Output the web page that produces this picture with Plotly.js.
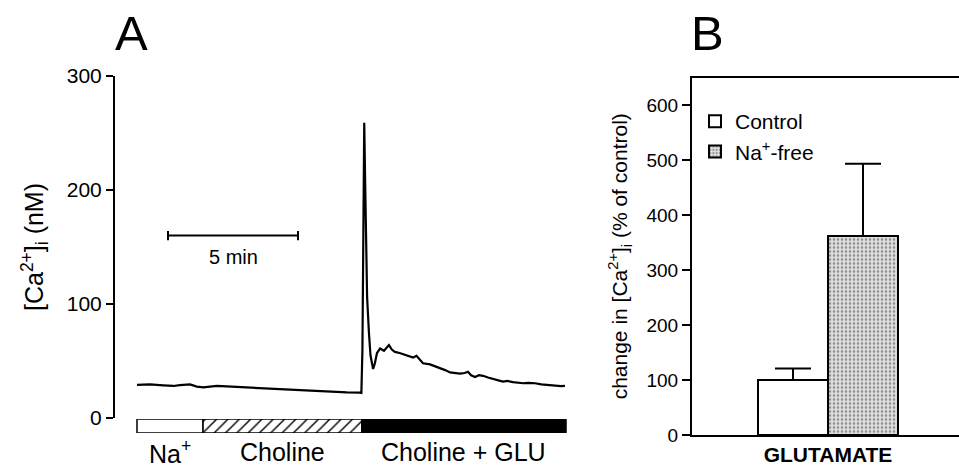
<!DOCTYPE html>
<html>
<head>
<meta charset="utf-8">
<script src="https://cdn.plot.ly/plotly-3.0.1.min.js"></script>
<style>
html,body{margin:0;padding:0;background:#fff;overflow:hidden;}
#chart{width:959px;height:467px;}
</style>
</head>
<body>
<div id="chart"></div>
<script>
// ---- Panel A: [Ca2+]i trace (time in minutes, value in nM) ----
const traceTime = [0,0.5,1.01,1.4,1.65,2.04,2.3,2.55,3.07,3.58,4.22,4.86,5.5,6.14,6.78,7.42,8.07,8.58,8.63,
  8.67,8.69,8.72,8.74,8.77,8.81,8.85,8.92,8.98,9.08,9.15,9.23,9.35,9.5,9.62,9.69,9.8,9.92,10.1,10.23,10.45,
  10.62,10.75,10.85,11.0,11.27,11.45,11.65,11.85,12.04,12.25,12.42,12.6,12.73,12.85,13.0,13.15,13.31,13.5,
  13.69,13.9,14.08,14.25,14.46,14.65,14.85,15.05,15.31,15.55,15.77,15.95,16.12,16.3,16.46];
const traceCa = [29,29.5,28.7,28.1,28.9,29.5,27.5,26.9,28.1,27.5,26.6,26.0,25.4,24.6,23.7,23.1,22.5,22.2,22,
  60,140,230,259,215,160,106,75,55,43,48,57,61,59,62,64,60,58,57,56,54,
  53,54.5,52,48,47,45.5,44,42,40,39.5,39,39.5,40.5,37.5,36,37.5,37,35.5,
  34,33,32,32.5,31.5,31,30.5,30.8,30.5,29.5,29,28.3,28.5,28,28.2];

// Perfusion protocol (minutes)
const stimLabels = ['Na<sup>+</sup>','Choline','Choline + GLU'];
const stimStart = [0, 2.54, 8.65];
const stimEnd = [2.54, 8.65, 16.5];
const stimFill = ['#ffffff','#ffffff','#000000'];
const stimPattern = ['', '/', ''];
const scaleBarMinutes = 5;
const yTicksA = [0,100,200,300];

// ---- Panel B: bar chart ----
const groupLabel = 'GLUTAMATE';
const seriesNames = ['Control','Na<sup>+</sup>-free'];
const seriesValues = [100, 362];
const seriesErrors = [21, 131];
const yTicksB = [0,100,200,300,400,500,600];

const FONT = 'Liberation Sans, Arial, Helvetica, sans-serif';
const W = 959, H = 467;
const px = v => v / W;
const py = v => (H - v) / H;

const traces = [];
traces.push({
  type:'scatter', mode:'lines', x:traceTime, y:traceCa, xaxis:'x', yaxis:'y',
  line:{color:'#000', width:2.2}, showlegend:false, hoverinfo:'skip'
});
// stimulus bar segments (horizontal bars on their own thin subplot)
stimLabels.forEach((s,i)=>{
  const m = {color:stimFill[i], line:{color:'#000', width:1.5}};
  if (stimPattern[i]) m.pattern = {shape:stimPattern[i], fgcolor:'#000', bgcolor:'#fff', size:8, solidity:0.18};
  traces.push({
    type:'bar', orientation:'h', xaxis:'x3', yaxis:'y3',
    y:[0], base:[stimStart[i]], x:[stimEnd[i]-stimStart[i]], width:[1],
    marker:m, showlegend:false, hoverinfo:'skip'
  });
});
// panel B bars
traces.push({
  type:'bar', name:seriesNames[0], x:[-0.5], y:[seriesValues[0]], width:[1],
  xaxis:'x2', yaxis:'y2',
  marker:{color:'#fff', line:{color:'#000', width:2}},
  error_y:{type:'data', array:[seriesErrors[0]], symmetric:false, arrayminus:[0], color:'#000', thickness:2, width:18}
});
traces.push({
  type:'bar', name:seriesNames[1], x:[0.5], y:[seriesValues[1]], width:[1],
  xaxis:'x2', yaxis:'y2',
  marker:{color:'#d6d6d6', line:{color:'#000', width:2},
    pattern:{shape:'.', fgcolor:'#8a8a8a', bgcolor:'#dedede', size:4, solidity:0.3}},
  error_y:{type:'data', array:[seriesErrors[1]], symmetric:false, arrayminus:[0], color:'#000', thickness:2, width:18}
});

const tA0 = -(137-115)/26, tA1 = (570-137)/26;
const sb0 = (168-137)/26;

const layout = {
  width:W, height:H,
  margin:{l:0,r:0,t:0,b:0},
  paper_bgcolor:'#fff', plot_bgcolor:'rgba(0,0,0,0)',
  font:{family:FONT, color:'#000', size:20},
  barmode:'overlay',
  showlegend:true,
  legend:{x:px(695), y:py(101), xanchor:'left', yanchor:'top', bgcolor:'rgba(0,0,0,0)',
    font:{family:FONT, size:21, color:'#000'}, tracegroupgap:0, itemwidth:30},
  xaxis:{domain:[px(115), px(570)], range:[tA0, tA1], anchor:'y', visible:false, fixedrange:true},
  yaxis:{domain:[py(418), py(76)], range:[0,300], anchor:'x', showline:true, linecolor:'#000', linewidth:2,
    ticks:'outside', ticklen:7, tickwidth:2, tickcolor:'#000', tickvals:yTicksA, showgrid:false, zeroline:false,
    tickfont:{size:21, family:FONT},
    title:{text:'[Ca<sup>2+</sup>]<sub>i</sub> (nM)', font:{size:25, family:FONT}, standoff:16}},
  xaxis3:{domain:[px(115), px(570)], range:[tA0, tA1], anchor:'y3', visible:false, fixedrange:true},
  yaxis3:{domain:[py(433), py(419)], range:[-0.5,0.5], anchor:'x3', visible:false, fixedrange:true},
  xaxis2:{domain:[px(692), 1], range:[-(828-692)/70, (959-828)/70], anchor:'y2', showline:true, mirror:true,
    linecolor:'#000', linewidth:2, ticks:'', tickvals:[0], ticktext:['<b>'+groupLabel+'</b>'],
    tickfont:{size:21, family:FONT}, showgrid:false, zeroline:false},
  yaxis2:{domain:[py(435), py(77.5)], range:[0,650], anchor:'x2', showline:true, linecolor:'#000', linewidth:2,
    ticks:'outside', ticklen:8, tickwidth:2, tickcolor:'#000', tickvals:yTicksB, showgrid:false, zeroline:false,
    tickfont:{size:19, family:FONT},
    title:{text:'change in [Ca<sup>2+</sup>]<sub>i</sub> (% of control)', font:{size:21, family:FONT}, standoff:13}},
  shapes:[
    {type:'line', xref:'x', yref:'y', x0:sb0, x1:sb0+scaleBarMinutes, y0:160, y1:160, line:{color:'#000', width:2}},
    {type:'line', xref:'x', yref:'y', x0:sb0, x1:sb0, y0:156, y1:164, line:{color:'#000', width:2}},
    {type:'line', xref:'x', yref:'y', x0:sb0+scaleBarMinutes, x1:sb0+scaleBarMinutes, y0:156, y1:164, line:{color:'#000', width:2}}
  ],
  annotations:[
    {text:'A', xref:'paper', yref:'paper', x:px(131), y:py(33), showarrow:false, font:{size:49, family:FONT}, xanchor:'center', yanchor:'middle'},
    {text:'B', xref:'paper', yref:'paper', x:px(707), y:py(33), showarrow:false, font:{size:49, family:FONT}, xanchor:'center', yanchor:'middle'},
    {text:scaleBarMinutes+' min', xref:'x', yref:'y', x:sb0+scaleBarMinutes/2, y:141, showarrow:false, font:{size:20, family:FONT}}
  ].concat(stimLabels.map((s,i)=>({
    text:s, xref:'x', yref:'paper', x:(stimStart[i]+stimEnd[i])/2, y:py(452), showarrow:false,
    font:{size:25, family:FONT}, xanchor:'center', yanchor:'middle'
  })))
};

Plotly.newPlot('chart', traces, layout, {displayModeBar:false, staticPlot:true});
</script>
</body>
</html>
